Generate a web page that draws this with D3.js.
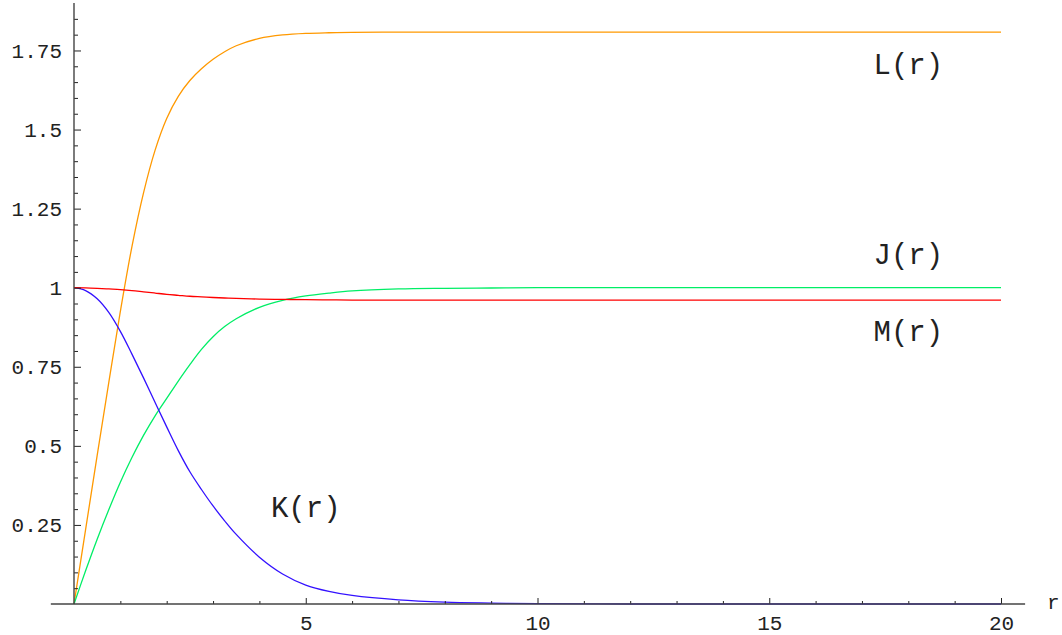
<!DOCTYPE html>
<html>
<head>
<meta charset="utf-8">
<script src="https://cdn.jsdelivr.net/npm/d3@7"></script>
<style>
  body { margin: 0; background: #fff; }
  svg { display: block; }
  .tick text { font-family: "Courier New", "Liberation Mono", monospace; font-size: 21px; fill: #222; }
  .label { font-family: "Courier New", "Liberation Mono", monospace; font-size: 29px; fill: #222; }
</style>
</head>
<body>
<svg id="chart" width="1062" height="635"></svg>
<script>
// sampled radius values
const rValues = [0, 0.25, 0.5, 0.75, 1, 1.25, 1.5, 1.75, 2, 2.25, 2.5, 2.75, 3, 3.25, 3.5, 4, 4.5, 5, 5.5, 6, 7, 8, 9, 10, 12, 14, 16, 18, 20];

// profile functions
const lValues = [0, 0.235, 0.47, 0.70, 0.925, 1.13, 1.30, 1.435, 1.535, 1.605, 1.655, 1.692, 1.722, 1.746, 1.765, 1.788, 1.799, 1.804, 1.806, 1.807, 1.808, 1.808, 1.808, 1.808, 1.808, 1.808, 1.808, 1.808, 1.808];
const jValues = [0, 0.105, 0.205, 0.298, 0.385, 0.463, 0.533, 0.595, 0.65, 0.705, 0.757, 0.805, 0.845, 0.877, 0.902, 0.938, 0.96, 0.974, 0.983, 0.99, 0.996, 0.998, 0.999, 1, 1, 1, 1, 1, 1];
const kValues = [1, 0.991, 0.965, 0.922, 0.862, 0.79, 0.715, 0.637, 0.56, 0.485, 0.418, 0.362, 0.31, 0.263, 0.22, 0.148, 0.095, 0.06, 0.04, 0.027, 0.013, 0.006, 0.003, 0.001, 0, 0, 0, 0, 0];
const mValues = [1, 0.9995, 0.998, 0.996, 0.994, 0.991, 0.987, 0.983, 0.979, 0.976, 0.973, 0.971, 0.969, 0.9675, 0.966, 0.964, 0.963, 0.962, 0.9615, 0.961, 0.961, 0.961, 0.961, 0.961, 0.961, 0.961, 0.961, 0.961, 0.961];

const seriesNames = ['L(r)', 'J(r)', 'K(r)', 'M(r)'];
const seriesColors = ['#ff9900', '#00ee66', '#3311ff', '#ff0000'];
// label anchor points (data coords)
const labelR = [18, 18, 5, 18];
const labelV = [1.7, 1.1, 0.3, 0.855];

const xMajor = [5, 10, 15, 20];
const yMajor = [0.25, 0.5, 0.75, 1, 1.25, 1.5, 1.75];
const yTickLabels = ['0.25', '0.5', '0.75', '1', '1.25', '1.5', '1.75'];

const svg = d3.select('#chart');

const x = d3.scaleLinear().domain([0, 20]).range([74, 1001]);
const y = d3.scaleLinear().domain([0, 1]).range([604, 287.7]);

const xMinor = d3.range(1, 21).filter(v => v % 5 !== 0);
const yMinor = d3.range(1, 38).map(i => +(i * 0.05).toFixed(2)).filter(v => Math.round(v * 100) % 25 !== 0);

// curves
const allSeries = [lValues, jValues, kValues, mValues];
const line = d3.line()
  .x((d, i) => x(rValues[i]))
  .y(d => y(d))
  .curve(d3.curveCatmullRom.alpha(0.5));

svg.append('g')
  .selectAll('path')
  .data(allSeries)
  .join('path')
  .attr('d', d => line(d))
  .attr('fill', 'none')
  .attr('stroke', (d, i) => seriesColors[i])
  .attr('stroke-width', 1.3);

// axes
const axisG = svg.append('g');

axisG.append('g')
  .attr('transform', `translate(0,${y(0)})`)
  .call(d3.axisBottom(x).tickValues(xMinor).tickSize(-3).tickFormat(''))
  .call(g => g.select('.domain').remove());

axisG.append('g')
  .attr('transform', `translate(0,${y(0)})`)
  .call(d3.axisBottom(x).tickValues(xMajor).tickSize(-6).tickPadding(11).tickFormat(d3.format('d')))
  .call(g => g.select('.domain').remove());

axisG.append('g')
  .attr('transform', `translate(${x(0)},0)`)
  .call(d3.axisLeft(y).tickValues(yMinor).tickSize(-4).tickFormat(''))
  .call(g => g.select('.domain').remove());

axisG.append('g')
  .attr('transform', `translate(${x(0)},0)`)
  .call(d3.axisLeft(y).tickValues(yMajor).tickSize(-7).tickPadding(12)
    .tickFormat((d, i) => yTickLabels[i]))
  .call(g => g.select('.domain').remove());

axisG.selectAll('.tick line').attr('stroke', '#222');

// axis lines
axisG.append('line')
  .attr('x1', x(-0.5)).attr('x2', x(20.52))
  .attr('y1', y(0)).attr('y2', y(0))
  .attr('stroke', '#444').attr('stroke-width', 1.4);
axisG.append('line')
  .attr('x1', x(0)).attr('x2', x(0))
  .attr('y1', y(0)).attr('y2', y(1.9))
  .attr('stroke', '#444').attr('stroke-width', 1.4);

// axis label
svg.append('text')
  .attr('class', 'label')
  .attr('x', 1047)
  .attr('y', 609)
  .style('font-size', '21px')
  .text('r');

// series labels
svg.append('g')
  .selectAll('text')
  .data(seriesNames)
  .join('text')
  .attr('class', 'label')
  .attr('x', (d, i) => x(labelR[i]))
  .attr('y', (d, i) => y(labelV[i]))
  .attr('text-anchor', 'middle')
  .attr('dominant-baseline', 'central')
  .text(d => d);
</script>
</body>
</html>
